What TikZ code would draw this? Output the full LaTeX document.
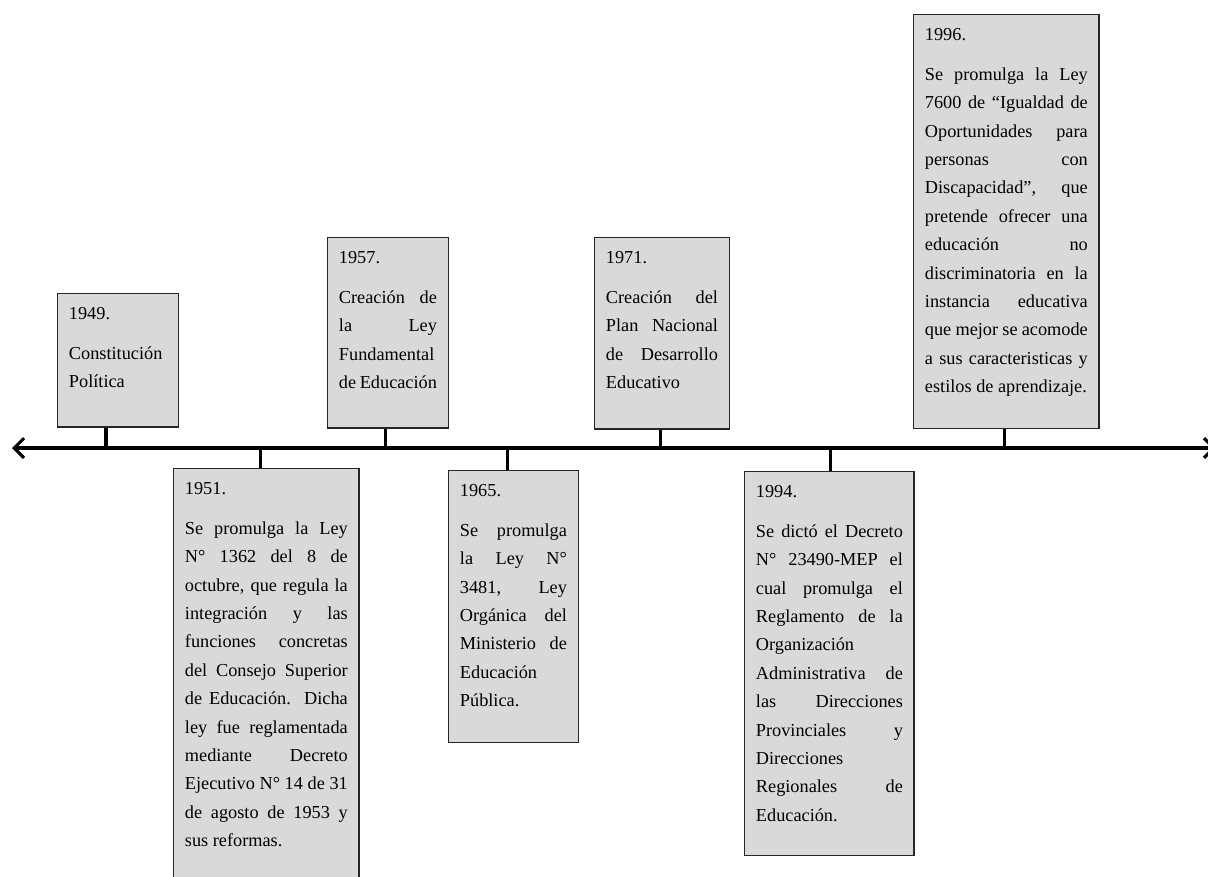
\documentclass[tikz,border=0pt]{standalone}
\usepackage{fontspec}
\setmainfont{Liberation Serif}
\usetikzlibrary{positioning, arrows.meta}
\hyphenpenalty=10000
\exhyphenpenalty=10000
\tolerance=10000
\hbadness=10000
\hfuzz=3pt
\tikzset{
    event/.style={rectangle, draw=black!85, fill=black!15, line width=1pt, anchor=north west, inner xsep=8pt, inner ysep=0pt, text height=18.4pt, align=justify, font=\fontsize{13}{20.2}\selectfont},
    stem/.style={line width=2.2pt},
    timeline/.style={line width=2.2pt, {Straight Barb[length=7pt,width=14pt]}-{Straight Barb[length=7pt,width=14pt]}},
}
\newcommand{\yr}[1]{#1\par\vspace{8pt}}

\begin{document}
\begin{tikzpicture}[x=0.025cm, y=-0.025cm]
        \useasboundingbox (0,0) rectangle (1208,876);
        \clip (0,0) rectangle (1208,876);
        \coordinate (tl) at (12,448);
        \coordinate (tr) at (1216,448);
        \draw[timeline] (tl) -- (tr);
        % above the line
        \node [event, text width=69.7pt, text depth=76.5pt] (y1949) at (57,293) {\yr{1949.}Constitución\newline Política};
        \node [event, text width=69.7pt, text depth=116.9pt] (y1957) at (327,237) {\yr{1957.}Creación de\linebreak la Ley\linebreak Fundamental\newline de Educación};
        \node [event, text width=79.7pt, text depth=117.6pt] (y1971) at (594,237) {\yr{1971.}Creación del\linebreak Plan Nacional\linebreak de Desarrollo\linebreak Educativo};
        \node [event, text width=115.8pt, text depth=275.7pt] (y1996) at (913,14) {\yr{1996.}Se promulga la Ley\linebreak 7600 de “Igualdad de\linebreak Oportunidades para\linebreak personas con\linebreak Discapacidad”, que\linebreak pretende ofrecer una\linebreak educación no\linebreak discriminatoria en la\linebreak instancia educativa\linebreak que mejor se acomode\linebreak a sus caracteristicas y\linebreak estilos de aprendizaje.};
        % below the line
        \node [event, text width=115.8pt, text depth=287.7pt] (y1951) at (173,468) {\yr{1951.}Se promulga la Ley\linebreak N° 1362 del 8 de\linebreak octubre, que regula la\linebreak integración y las\linebreak funciones concretas\linebreak del Consejo Superior\linebreak de Educación. Dicha\linebreak ley fue reglamentada\linebreak mediante Decreto\linebreak Ejecutivo N° 14 de 31\linebreak de agosto de 1953 y\linebreak sus reformas.};
        \node [event, text width=76.1pt, text depth=175pt] (y1965) at (448,470) {\yr{1965.}Se promulga\linebreak la Ley N°\linebreak 3481, Ley\linebreak Orgánica del\linebreak Ministerio de\linebreak Educación\newline Pública.};
        \node [event, text width=104.5pt, text depth=254.4pt] (y1994) at (744,471) {\yr{1994.}Se dictó el Decreto\linebreak N° 23490-MEP el\linebreak cual promulga el\linebreak Reglamento de la\linebreak Organización\newline Administrativa de\linebreak las Direcciones\linebreak Provinciales y\linebreak Direcciones\newline Regionales de\linebreak Educación.};
        % stems
        \coordinate (s1949) at ([xshift=-8.5pt]y1949.south);
        \coordinate (s1957) at ([xshift=-1.8pt]y1957.south);
        \coordinate (s1971) at ([xshift=-1pt]y1971.south);
        \coordinate (s1996) at ([xshift=-1.4pt]y1996.south);
        \coordinate (s1951) at ([xshift=-4.2pt]y1951.north);
        \coordinate (s1965) at ([xshift=-4.2pt]y1965.north);
        \coordinate (s1994) at ([xshift=0.7pt]y1994.north);
        \foreach \s in {s1949, s1957, s1971, s1996, s1951, s1965, s1994}
            \draw[stem] (\s) -- (\s |- tl);
    \end{tikzpicture}
\end{document}
